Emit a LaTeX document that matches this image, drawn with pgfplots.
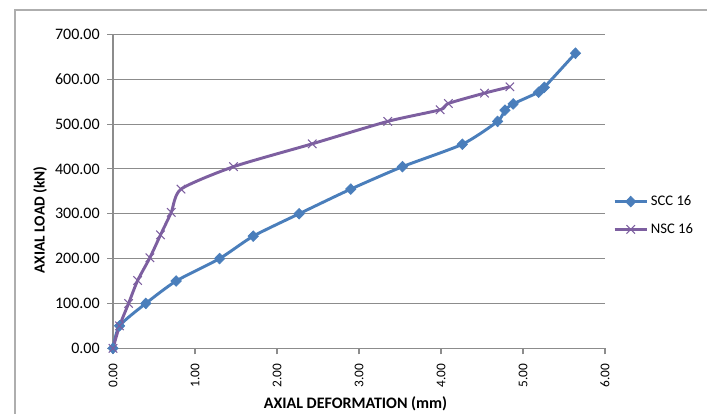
\documentclass[border=0pt]{standalone}
\usepackage{fontspec}
\setmainfont{Carlito}
\usepackage{pgfplots}
\pgfplotsset{compat=1.18}
\definecolor{sccblue}{HTML}{4A7EBB}
\definecolor{nscpurple}{HTML}{7D5FA0}
\definecolor{gridgray}{HTML}{8C8C8C}
\begin{document}
\begin{tikzpicture}
\useasboundingbox (0,0) rectangle (530.25pt,310.5pt);
\draw[gridgray!70, line width=0.8pt] (11.25pt,0pt) -- (11.25pt,303pt) -- (530.25pt,303pt);
\begin{axis}[
  at={(84.75pt,49.3pt)}, anchor=south west,
  scale only axis, width=369pt, height=235.4pt,
  xmin=0, xmax=6, ymin=0, ymax=700,
  xtick={0,1,...,6}, ytick={0,100,...,700},
  axis lines=left, axis line style={-, gridgray, line width=0.8pt},
  tick style={gridgray, line width=0.8pt},
  tick align=outside, major tick length=4.5pt,
  ymajorgrids, grid style={gridgray, line width=0.8pt},
  /pgf/number format/assume math mode=true,
  /pgf/number format/fixed, /pgf/number format/fixed zerofill, /pgf/number format/precision=2,
  xticklabel style={rotate=90, anchor=east, font=\fontsize{10}{12}\selectfont, yshift=0pt, xshift=-3.5pt},
  yticklabel style={font=\fontsize{12}{14}\selectfont, xshift=-2pt},
  xlabel={\textbf{AXIAL DEFORMATION (mm)}},
  ylabel={\textbf{AXIAL LOAD (kN)}},
  xlabel style={font=\fontsize{12}{14}\selectfont, at={(axis description cs:0.4929,0)}, anchor=center, yshift=-41.8pt},
  ylabel style={font=\fontsize{11.5}{14}\selectfont, at={(axis description cs:-0.148,0.409)}, anchor=center},
  legend style={at={(1,0.423)}, anchor=west, xshift=6pt, draw=none, fill=none,
    inner xsep=0pt, inner ysep=0pt, font=\fontsize{11}{13}\selectfont, row sep=10pt,
    nodes={inner xsep=2pt, inner ysep=1pt}},
  legend image code/.code={\draw[mark repeat=2,mark phase=2] plot coordinates {(0pt,0pt) (12pt,0pt) (24pt,0pt)};},
  legend cell align=left,
  clip=false,
]
\addplot[sccblue, line width=2.2pt, smooth, tension=0.4, mark=diamond*, mark size=4pt, mark options={fill=sccblue, line width=0.5pt, xscale=1.3}] coordinates {
(0,0) (0.08,50) (0.40,100) (0.77,150) (1.30,200) (1.71,250) (2.27,300) (2.90,355) (3.53,405) (4.26,455) (4.69,506) (4.78,531) (4.88,545) (5.19,571) (5.26,582) (5.64,658)
};
\addlegendentry{SCC 16}
\addplot[nscpurple, line width=2.2pt, smooth, tension=0.4, mark=x, mark size=4.5pt, mark options={line width=0.8pt}] coordinates {
(0,0) (0.08,50) (0.19,100) (0.30,151) (0.45,202) (0.58,253) (0.71,303) (0.83,355) (1.47,405) (2.43,456) (3.35,506) (3.99,532) (4.09,546) (4.53,569) (4.84,583)
};
\addlegendentry{NSC 16}
\end{axis}
\end{tikzpicture}
\end{document}
